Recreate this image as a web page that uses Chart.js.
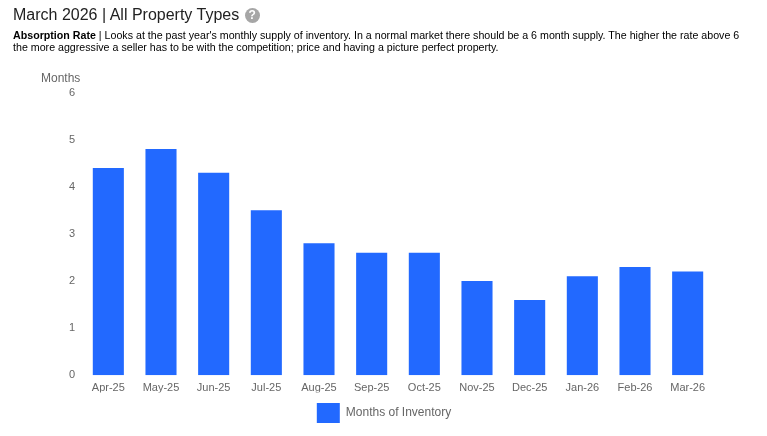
<!DOCTYPE html>
<html>
<head>
<meta charset="utf-8">
<script src="https://cdn.jsdelivr.net/npm/chart.js@4"></script>
<style>
  html, body { margin: 0; padding: 0; background: #fff; overflow: hidden; }
  body { width: 767px; height: 436px; position: relative; font-family: "Liberation Sans", Arial, sans-serif; }
  #title { position: absolute; left: 13px; top: 4px; font-size: 16px; line-height: 22px; color: #222; white-space: nowrap; }
  #help { display: inline-block; width: 15px; height: 15px; line-height: 15px; border-radius: 50%; background: #a6a6a6; color: #fff;
          font-size: 12px; font-weight: bold; text-align: center; margin-left: 1px; vertical-align: 1px; }
  #desc { position: absolute; left: 13px; top: 29px; width: 750px; font-size: 10.67px; line-height: 12px; color: #000; white-space: nowrap; }
  #unit { position: absolute; left: 41px; top: 71px; font-size: 12px; line-height: 14px; color: #666; }
  #wrap { position: absolute; left: 0; top: 0; width: 767px; height: 436px; }
</style>
</head>
<body>
<div id="wrap"><canvas id="myChart"></canvas></div>
<div id="title">March 2026 | All Property Types <span id="help">?</span></div>
<div id="desc"><b>Absorption Rate</b> | Looks at the past year's monthly supply of inventory. In a normal market there should be a 6 month supply. The higher the rate above 6<br>the more aggressive a seller has to be with the competition; price and having a picture perfect property.</div>
<div id="unit">Months</div>
<script>
const months = ['Apr-25','May-25','Jun-25','Jul-25','Aug-25','Sep-25','Oct-25','Nov-25','Dec-25','Jan-26','Feb-26','Mar-26']
const inventory = [4.4, 4.8, 4.3, 3.5, 2.8, 2.6, 2.6, 2.0, 1.6, 2.1, 2.3, 2.2]
const seriesName = 'Months of Inventory'
const yTicks = [0, 1, 2, 3, 4, 5, 6]

Chart.defaults.font.family = '"Liberation Sans", Arial, sans-serif'
Chart.defaults.font.size = 11
Chart.defaults.color = '#666'

// legend sits centred on the page, not on the plot
const moveLegend = {
  id: 'moveLegend',
  afterLayout(chart) {
    const l = chart.legend
    l.left += 27
    l.right += 27
    l.top += 5.5
    l.bottom += 5.5
  }
}

const ctx = document.getElementById('myChart')
const myChart = new Chart(ctx, {
  type: 'bar',
  plugins: [moveLegend],
  data: {
    labels: months,
    datasets: [{
      label: seriesName,
      data: inventory,
      backgroundColor: '#2269ff',
      borderWidth: 0,
      categoryPercentage: 0.59,
      barPercentage: 1
    }]
  },
  options: {
    responsive: true,
    maintainAspectRatio: false,
    animation: false,
    layout: { padding: { top: 92.5, right: 53, bottom: 8.5, left: 0 } },
    plugins: {
      tooltip: { enabled: false },
      legend: {
        position: 'bottom',
        labels: { boxWidth: 23, boxHeight: 20, padding: 5, font: { size: 12 }, color: '#666' }
      }
    },
    scales: {
      x: {
        grid: { display: false },
        border: { display: false },
        ticks: { maxRotation: 0, autoSkip: false, padding: -2 }
      },
      y: {
        min: 0,
        max: 6,
        grid: { display: false },
        border: { display: false },
        afterBuildTicks: axis => { axis.ticks = yTicks.map(v => ({ value: v })) },
        afterFit: axis => { axis.width = 82 },
        ticks: { padding: -1 }
      }
    }
  }
})
</script>
</body>
</html>
